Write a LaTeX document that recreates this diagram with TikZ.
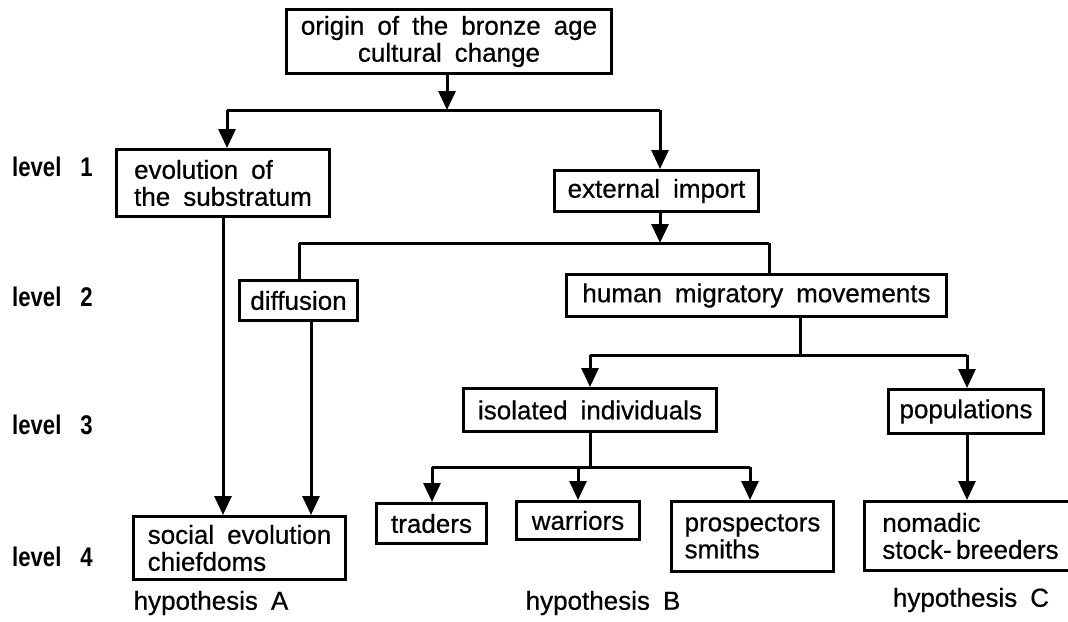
\documentclass[tikz,border=0pt]{standalone}
\usepackage{fontspec}
\setmainfont{Liberation Sans}[FakeBold=0.6]
\newfontfamily\levelfont{Liberation Sans}[FakeStretch=0.82]
\usepackage{tikz}
\usetikzlibrary{arrows.meta}

\newcommand{\boxfont}{\fontsize{26}{27}\selectfont\spaceskip=0.5em plus 0.1em\relax}
\newcommand{\lvlfont}{\levelfont\bfseries\fontsize{27}{28}\selectfont\spaceskip=0.7em\relax}

\tikzset{
  bx/.style={draw, line width=3pt, inner sep=0pt, font=\boxfont, align=left, anchor=north west},
  lvl/.style={font=\lvlfont, anchor=west, inner sep=0pt},
  hyp/.style={font=\boxfont, inner sep=0pt},
  conn/.style={line width=3pt},
  arr/.style={conn, -{Triangle[width=17pt,length=19pt]}}
}

\begin{document}
\begin{tikzpicture}[x=1pt,y=1pt,yscale=-1]
\useasboundingbox (0,0) rectangle (1068,621);
\begin{scope}
\clip (0,0) rectangle (1068,621);

% Text Node
\node[bx, align=center, minimum width=325, minimum height=64] (origin) at (285,8) {origin of the bronze age\\cultural change};
% Text Node
\node[bx, minimum width=213, minimum height=67] (evol) at (115,148) {evolution of\\the substratum};
% Text Node
\node[bx, minimum width=204, minimum height=41] (ext) at (553,169) {external import};
% Text Node
\node[bx, minimum width=118, minimum height=40] (diff) at (238,279) {diffusion};
% Text Node
\node[bx, minimum width=380, minimum height=42] (human) at (565,273) {human migratory movements};
% Text Node
\node[bx, minimum width=253, minimum height=43] (indiv) at (462,387) {isolated individuals};
% Text Node
\node[bx, minimum width=155, minimum height=44] (popul) at (887,388) {populations};
% Text Node
\node[bx, minimum width=212, minimum height=63] (social) at (132,515) {social evolution\\chiefdoms};
% Text Node
\node[bx, minimum width=110, minimum height=40] (trad) at (375,502) {traders};
% Text Node
\node[bx, minimum width=123, minimum height=38] (warr) at (515,500) {warriors};
% Text Node
\node[bx, minimum width=162, minimum height=70] (prosp) at (670,500) {prospectors\\smiths};
% Text Node
\node[bx, minimum width=212, minimum height=69] (nomad) at (863,500) {nomadic\\stock-\,breeders};

% Level labels
\node[lvl] (lv1) at (12,167) {level 1};
\node[lvl] (lv2) at (12,297) {level 2};
\node[lvl] (lv3) at (12,425) {level 3};
\node[lvl] (lv4) at (12,557) {level 4};

% Hypotheses
\node[hyp] (hypA) at (211,603) {hypothesis A};
\node[hyp] (hypB) at (603,603) {hypothesis B};
\node[hyp] (hypC) at (971,600) {hypothesis C};

% Junctions
\coordinate (j0) at (447,110);
\coordinate (j0l) at (227,110);
\coordinate (j0r) at (660,110);
\coordinate (j1) at (660,243);
\coordinate (j1l) at (299,243);
\coordinate (j1r) at (769,243);
\coordinate (j2) at (800,355);
\coordinate (j2l) at (590,355);
\coordinate (j2r) at (967,355);
\coordinate (j3) at (590,467);
\coordinate (j3l) at (432,467);
\coordinate (j3m) at (578,467);
\coordinate (j3r) at (750,467);

% Connection
\draw[arr] (origin.south -| j0) -- (j0);
\draw[conn] (j0l) -- (j0r);
\draw[arr] (j0l) -- (j0l |- evol.north);
\draw[arr] (j0r) -- (j0r |- ext.north);
% Connection
\draw[arr] (ext.south -| j1) -- (j1);
\draw[conn] (j1l) -- (j1r);
\draw[conn] (j1l) -- (j1l |- diff.north);
\draw[conn] (j1r) -- (j1r |- human.north);
% Connection
\draw[arr] (evol.south -| 223,0) -- (social.north -| 223,0);
\draw[arr] (diff.south -| 311,0) -- (social.north -| 311,0);
% Connection
\draw[conn] (human.south -| j2) -- (j2);
\draw[conn] (j2l) -- (j2r);
\draw[arr] (j2l) -- (j2l |- indiv.north);
\draw[arr] (j2r) -- (j2r |- popul.north);
% Connection
\draw[conn] (indiv.south -| j3) -- (j3);
\draw[conn] (j3l) -- (j3r);
\draw[arr] (j3l) -- (j3l |- trad.north);
\draw[arr] (j3m) -- (j3m |- warr.north);
\draw[arr] (j3r) -- (j3r |- prosp.north);
% Connection
\draw[arr] (popul.south -| j2r) -- (nomad.north -| j2r);

\end{scope}
\end{tikzpicture}
\end{document}
